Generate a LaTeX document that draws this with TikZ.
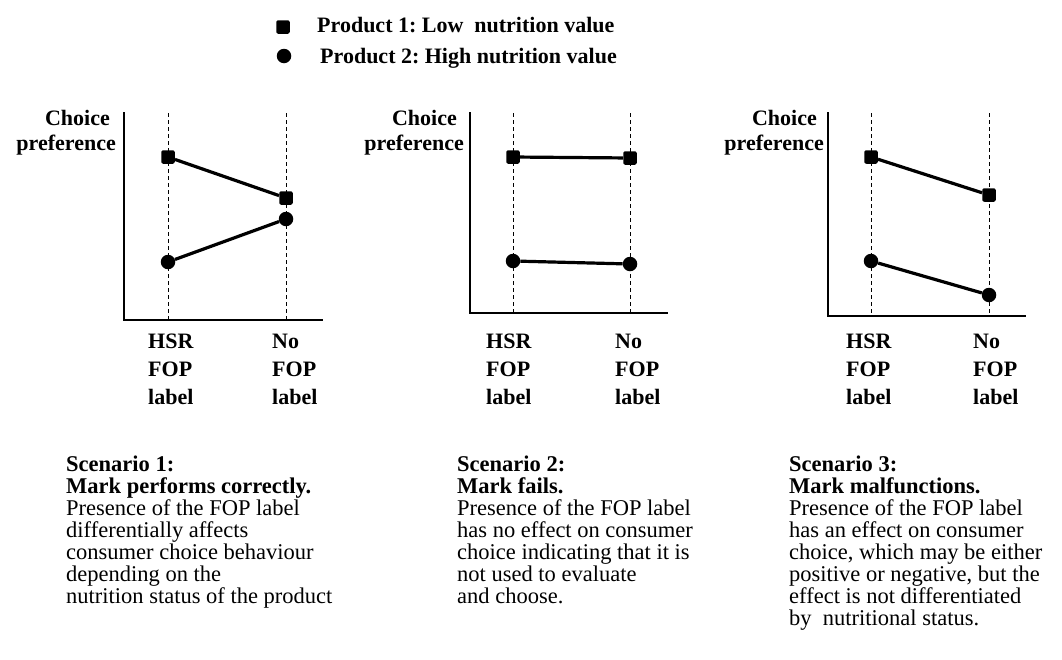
\documentclass[tikz,border=0pt]{standalone}
\usepackage{fontspec}
\setmainfont{Liberation Serif}
\frenchspacing
\begin{document}
\begin{tikzpicture}[x=1pt,y=-1pt,
  axisline/.style={line width=2.6pt, line cap=rect},
  guide/.style={line width=0.8pt, dash pattern=on 4pt off 3pt},
  conn/.style={line width=3.2pt},
  sq/.style={rectangle, fill=black, minimum size=13.5pt, inner sep=0pt, rounded corners=2pt},
  ci/.style={circle, fill=black, minimum size=14.5pt, inner sep=0pt},
  lbl/.style={font=\bfseries\fontsize{22}{22}\selectfont, inner sep=0pt},
  xlab/.style={font=\bfseries\fontsize{22}{28}\selectfont, align=left, inner sep=0pt, anchor=north west},
  body/.style={font=\fontsize{22.5}{22}\selectfont, align=left, inner sep=0pt, anchor=north west}]
\useasboundingbox (0,0) rectangle (1062,659);

% legend
\node[sq] (legsq) at (283,27) {};
\node[lbl, anchor=base west] (legt1) at (317,32) {Product 1: Low\ \ nutrition value};
\node[ci] (legci) at (284,56) {};
\node[lbl, anchor=base west] (legt2) at (320,63) {Product 2: High nutrition value};

% ---------- panel 1
\coordinate (a1t) at (124,113); \coordinate (a1o) at (124,320); \coordinate (a1r) at (322,320);
\draw[axisline] (a1t) -- (a1o) -- (a1r);
\coordinate (g1at) at (168,113); \coordinate (g1ab) at (168,320);
\coordinate (g1bt) at (286,113); \coordinate (g1bb) at (286,320);
\draw[guide] (g1at) -- (g1ab);
\draw[guide] (g1bt) -- (g1bb);
\node[sq] (p1s1) at (168,157) {};
\node[sq] (p1s2) at (286,198) {};
\node[ci] (p1c1) at (168,262) {};
\node[ci] (p1c2) at (286,219) {};
\draw[conn] (p1s1) -- (p1s2);
\draw[conn] (p1c1) -- (p1c2);
\node[lbl, anchor=base east] (y1a) at (110,125) {Choice};
\node[lbl, anchor=base east] (y1b) at (116,150) {preference};
\node[xlab] (x1a) at (148,333.5) {HSR\\FOP\\label};
\node[xlab] (x1b) at (272,333.5) {No\\FOP\\label};

% ---------- panel 2
\coordinate (a2t) at (470,113); \coordinate (a2o) at (470,313); \coordinate (a2r) at (667,313);
\draw[axisline] (a2t) -- (a2o) -- (a2r);
\coordinate (g2at) at (513,113); \coordinate (g2ab) at (513,313);
\coordinate (g2bt) at (630,113); \coordinate (g2bb) at (630,313);
\draw[guide] (g2at) -- (g2ab);
\draw[guide] (g2bt) -- (g2bb);
\node[sq] (p2s1) at (513,157) {};
\node[sq] (p2s2) at (630,158) {};
\node[ci] (p2c1) at (513,261) {};
\node[ci] (p2c2) at (630,264) {};
\draw[conn] (p2s1) -- (p2s2);
\draw[conn] (p2c1) -- (p2c2);
\node[lbl, anchor=base east] (y2a) at (457,125) {Choice};
\node[lbl, anchor=base east] (y2b) at (464,150) {preference};
\node[xlab] (x2a) at (486,333.5) {HSR\\FOP\\label};
\node[xlab] (x2b) at (615,333.5) {No\\FOP\\label};

% ---------- panel 3
\coordinate (a3t) at (828,113); \coordinate (a3o) at (828,316); \coordinate (a3r) at (1025,316);
\draw[axisline] (a3t) -- (a3o) -- (a3r);
\coordinate (g3at) at (871,113); \coordinate (g3ab) at (871,316);
\coordinate (g3bt) at (989,113); \coordinate (g3bb) at (989,316);
\draw[guide] (g3at) -- (g3ab);
\draw[guide] (g3bt) -- (g3bb);
\node[sq] (p3s1) at (871,157) {};
\node[sq] (p3s2) at (989,195) {};
\node[ci] (p3c1) at (871,261) {};
\node[ci] (p3c2) at (989,295) {};
\draw[conn] (p3s1) -- (p3s2);
\draw[conn] (p3c1) -- (p3c2);
\node[lbl, anchor=base east] (y3a) at (817,125) {Choice};
\node[lbl, anchor=base east] (y3b) at (824,150) {preference};
\node[xlab] (x3a) at (846,333.5) {HSR\\FOP\\label};
\node[xlab] (x3b) at (973,333.5) {No\\FOP\\label};

% ---------- descriptions
\node[body] (d1) at (66,456) {\textbf{Scenario 1:}\\\textbf{Mark performs correctly.}\\Presence of the FOP label\\differentially affects\\consumer choice behaviour\\depending on the\\nutrition status of the product};
\node[body] (d2) at (457,456) {\textbf{Scenario 2:}\\\textbf{Mark fails.}\\Presence of the FOP label\\has no effect on consumer\\choice indicating that it is\\not used to evaluate\\and choose.};
\node[body] (d3) at (789,456) {\textbf{Scenario 3:}\\\textbf{Mark malfunctions.}\\Presence of the FOP label\\has an effect on consumer\\choice, which may be either\\positive or negative, but the\\effect is not differentiated\\by\ \ nutritional status.};
\end{tikzpicture}
\end{document}
